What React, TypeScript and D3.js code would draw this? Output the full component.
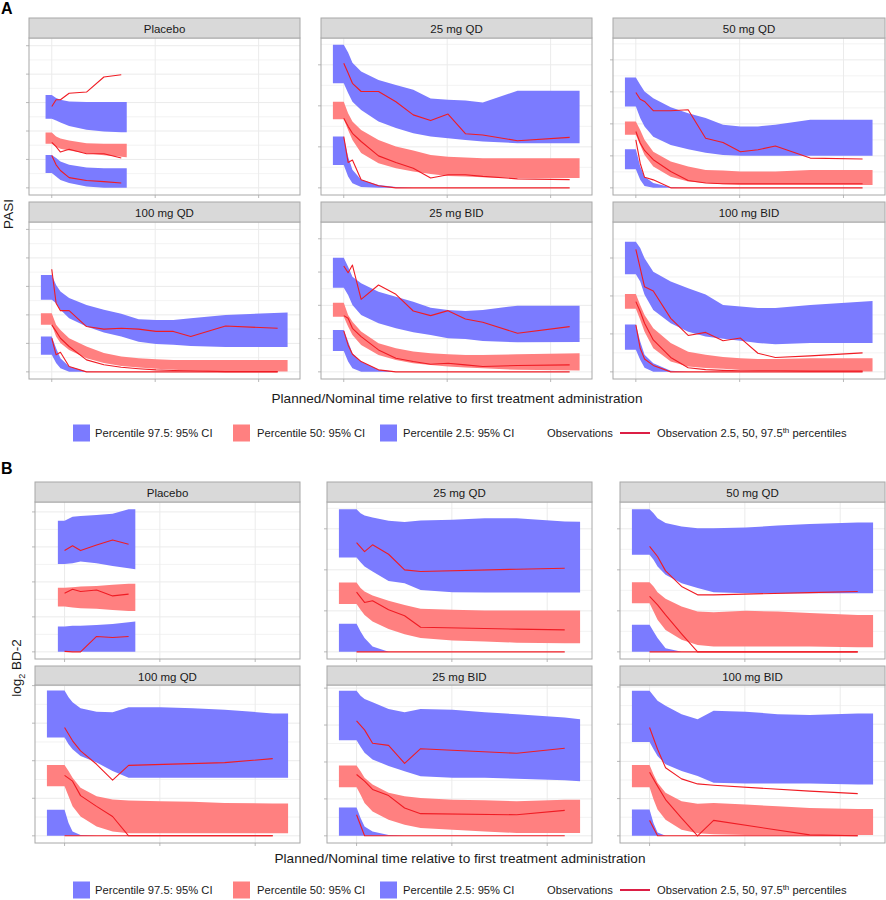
import React from 'react';
import * as d3 from 'd3';

// time axis is in hours after first dose
const timeBreaks = [0, 4000, 8000];

// ---------- PASI ----------
const pasiPlaceboBandHours = [-240, 0, 168, 336, 672, 1344, 2016, 2688, 2900];
const pasiPlaceboObsHours = [0, 168, 336, 672, 1344, 2016, 2688];
const pasiBandHours = [-420, 0, 168, 336, 672, 1344, 2016, 2688, 3360, 4032, 4704, 5376, 6720, 9120];
const pasiObsHours = [0, 168, 336, 672, 1344, 2016, 2688, 3360, 4032, 4704, 5376, 6720, 8736];

const pasiPlaceboBands = {
  upper: { lo: [24.3, 24.3, 23.7, 23.0, 21.8, 20.4, 19.8, 19.6, 19.6], hi: [32.7, 32.7, 31.6, 31.0, 30.4, 30.2, 30.2, 30.2, 30.2] },
  median: { lo: [15.5, 15.5, 14.5, 13.8, 13.1, 12.2, 11.5, 10.9, 10.8], hi: [19.5, 19.5, 18.1, 17.4, 16.7, 15.7, 15.5, 15.5, 15.5] },
  lower: { lo: [5.2, 5.2, 4.0, 2.8, 1.7, 0.5, 0, 0, 0], hi: [11.6, 11.6, 10.5, 9.3, 8.1, 7.2, 6.9, 6.9, 6.9] },
};
const pasiPlaceboObs = {
  upper: [28.6, 31.0, 31.0, 33.3, 33.7, 39.0, 39.8],
  median: [16.0, 14.5, 12.6, 13.6, 12.0, 12.0, 10.5],
  lower: [11.4, 8.1, 6.1, 3.6, 2.6, 2.2, 1.7],
};

const pasi25qdBands = {
  upper: { lo: [25.5, 25.5, 23.1, 21.0, 19.0, 16.2, 14.6, 13.3, 12.5, 12.1, 11.7, 11.3, 10.9, 10.9], hi: [34.9, 34.9, 33.0, 30.5, 28.4, 26.3, 25.1, 23.9, 21.8, 21.5, 21.3, 20.8, 23.7, 23.7] },
  median: { lo: [16.7, 16.7, 14.1, 11.7, 8.5, 6.0, 4.8, 4.0, 3.4, 2.9, 2.8, 2.6, 2.4, 2.4], hi: [21.0, 21.0, 18.2, 16.2, 14.1, 11.7, 10.1, 9.1, 8.0, 7.6, 7.4, 7.2, 7.2, 7.2] },
  lower: { lo: [5.6, 5.6, 2.8, 1.1, 0.2, 0, 0, 0, 0, 0, 0, 0, 0, 0], hi: [12.5, 12.5, 7.6, 4.4, 2.0, 0.7, 0.2, 0, 0, 0, 0, 0, 0, 0] },
};
const pasi25qdObs = {
  upper: [30.4, 28.0, 25.5, 23.5, 23.5, 21.0, 17.8, 16.4, 18.0, 13.2, 12.9, 11.5, 12.3],
  median: [17.0, 15.0, 13.3, 11.3, 7.8, 6.2, 4.8, 2.4, 3.2, 3.2, 2.8, 2.2, 2.0],
  lower: [12.5, 6.2, 6.8, 2.0, 0.5, 0, 0, 0, 0, 0, 0, 0, 0],
};

const pasi50qdBands = {
  upper: { lo: [25.4, 25.4, 21.8, 19.2, 16.0, 13.4, 12.1, 11.0, 10.3, 10.0, 10.0, 10.0, 10.0, 10.0], hi: [34.5, 34.5, 32.2, 30.1, 28.0, 25.2, 23.3, 21.8, 19.7, 19.2, 19.2, 19.7, 21.3, 21.3] },
  median: { lo: [16.6, 16.6, 13.4, 10.3, 6.7, 3.5, 2.0, 1.5, 1.1, 0.9, 0.9, 0.9, 0.9, 0.9], hi: [20.7, 20.7, 18.1, 15.0, 11.3, 8.2, 6.7, 5.6, 5.4, 5.1, 5.1, 5.1, 5.6, 5.6] },
  lower: { lo: [5.8, 5.8, 2.5, 0.6, 0, 0, 0, 0, 0, 0, 0, 0, 0, 0], hi: [12.1, 12.1, 6.7, 3.5, 1.5, 0.2, 0, 0, 0, 0, 0, 0, 0, 0] },
};
const pasi50qdObs = {
  upper: [29.8, 27.7, 27.0, 24.1, 24.1, 24.4, 15.5, 14.2, 11.3, 11.9, 13.1, 9.3, 9.0],
  median: [17.6, 14.0, 11.7, 8.8, 5.1, 2.3, 1.5, 1.3, 1.3, 1.3, 1.3, 1.3, 1.3],
  lower: [15.0, 7.7, 3.3, 2.5, 0, 0, 0, 0, 0, 0, 0, 0, 0],
};

const pasi100qdBands = {
  upper: { lo: [25.3, 25.3, 24.1, 21.8, 18.8, 15.9, 13.8, 12.4, 10.6, 9.8, 9.5, 9.1, 8.7, 8.7], hi: [34.0, 34.0, 30.5, 28.2, 25.9, 23.5, 21.8, 20.4, 18.5, 18.2, 18.2, 18.8, 20.0, 20.8] },
  median: { lo: [16.5, 16.5, 12.4, 10.1, 7.7, 4.8, 3.1, 2.1, 1.5, 1.1, 0.7, 0.5, 0.1, 0.1], hi: [20.6, 20.6, 16.5, 14.7, 11.8, 8.9, 6.6, 5.4, 4.8, 4.4, 4.2, 4.2, 4.2, 4.2] },
  lower: { lo: [6.0, 6.0, 3.1, 1.3, 0, 0, 0, 0, 0, 0, 0, 0, 0, 0], hi: [12.4, 12.4, 8.3, 4.8, 1.9, 0.1, 0, 0, 0, 0, 0, 0, 0, 0] },
};
const pasi100qdObs = {
  upper: [36.0, 24.1, 21.5, 21.5, 15.9, 15.0, 15.3, 15.0, 14.2, 14.2, 12.4, 16.1, 15.3],
  median: [16.5, 14.2, 11.8, 8.9, 4.2, 2.5, 1.6, 1.1, 0.7, 0.5, 0.4, 0.1, 0.1],
  lower: [11.8, 6.0, 6.9, 1.9, 0, 0, 0, 0, 0, 0, 0, 0, 0],
};

const pasi25bidBands = {
  upper: { lo: [25.3, 25.3, 23.1, 20.1, 17.1, 14.6, 13.1, 11.9, 11.1, 10.1, 9.9, 9.3, 8.9, 9.0], hi: [34.3, 34.3, 31.6, 28.6, 26.6, 24.1, 22.6, 21.1, 19.3, 18.6, 18.3, 18.6, 19.9, 19.9] },
  median: { lo: [16.6, 16.6, 13.6, 11.1, 8.1, 5.1, 3.6, 2.6, 2.1, 1.6, 1.3, 1.1, 0.6, 0.4], hi: [20.8, 20.8, 17.1, 15.1, 12.1, 8.6, 7.1, 6.1, 5.6, 5.3, 5.1, 5.1, 5.3, 5.6] },
  lower: { lo: [6.3, 6.3, 3.1, 1.1, 0, 0, 0, 0, 0, 0, 0, 0, 0, 0], hi: [12.6, 12.6, 9.1, 5.6, 3.1, 0.6, 0, 0, 0, 0, 0, 0, 0, 0] },
};
const pasi25bidObs = {
  upper: [31.8, 29.8, 32.1, 21.8, 26.1, 23.3, 18.3, 16.9, 18.4, 15.9, 14.9, 11.6, 13.6],
  median: [16.9, 16.1, 13.1, 10.6, 6.6, 4.1, 3.1, 2.3, 2.6, 2.1, 1.6, 1.9, 2.1],
  lower: [12.3, 8.1, 5.3, 3.1, 0.6, 0, 0, 0, 0, 0, 0, 0, 0],
};

const pasi100bidBands = {
  upper: { lo: [25.7, 25.7, 23.8, 20.3, 16.3, 12.8, 10.6, 9.3, 8.7, 8.2, 7.6, 7.3, 7.6, 7.6], hi: [34.3, 34.3, 32.6, 29.9, 26.4, 23.8, 22.0, 20.4, 17.6, 17.2, 16.8, 16.8, 17.6, 18.7] },
  median: { lo: [16.6, 16.6, 13.7, 10.6, 6.2, 2.7, 1.4, 1.0, 0.8, 0.5, 0.3, 0.3, 0.1, 0.1], hi: [20.5, 20.5, 17.6, 15.0, 11.5, 7.6, 5.3, 4.5, 3.9, 3.6, 3.4, 3.4, 3.6, 3.6] },
  lower: { lo: [5.8, 5.8, 3.2, 1.1, 0, 0, 0, 0, 0, 0, 0, 0, 0, 0], hi: [12.5, 12.5, 8.0, 4.5, 2.3, 0.3, 0, 0, 0, 0, 0, 0, 0, 0] },
};
const pasi100bidObs = {
  upper: [32.3, 27.3, 22.4, 21.3, 14.1, 9.6, 10.4, 8.2, 8.9, 4.9, 3.8, 4.2, 5.0],
  median: [18.5, 15.9, 12.8, 8.4, 3.8, 1.1, 0.6, 0.4, 0.3, 0.3, 0.3, 0.2, 0.2],
  lower: [12.4, 6.2, 3.4, 1.7, 0, 0, 0, 0, 0, 0, 0, 0, 0],
};

// ---------- log2 BD-2 ----------
const bd2PlaceboBandHours = [-280, 0, 336, 672, 1344, 2016, 2688, 2970];
const bd2PlaceboObsHours = [0, 336, 672, 1344, 2016, 2688];
const bd2BandHours = [-740, 0, 168, 336, 672, 1344, 2016, 2688, 4032, 5376, 6720, 8736, 9380];
const bd2ObsHours = [0, 336, 672, 1344, 2016, 2688, 6720, 8736];

const bd2PlaceboBands = {
  upper: { lo: [5.03, 5.03, 5.07, 5.16, 5.07, 4.91, 4.78, 4.72], hi: [7.49, 7.49, 7.73, 7.77, 7.83, 7.89, 8.15, 8.15] },
  median: { lo: [2.59, 2.59, 2.53, 2.49, 2.46, 2.40, 2.34, 2.34], hi: [3.67, 3.67, 3.69, 3.73, 3.77, 3.83, 3.89, 3.89] },
  lower: { lo: [0, 0, 0, 0, 0, 0, 0, 0], hi: [1.45, 1.45, 1.49, 1.50, 1.54, 1.60, 1.70, 1.73] },
};
const bd2PlaceboObs = {
  upper: [5.79, 6.07, 5.79, 6.11, 6.40, 6.15],
  median: [3.35, 3.58, 3.45, 3.54, 3.20, 3.30],
  lower: [0.03, 0, 0, 0.88, 0.82, 0.88],
};

const bd225qdBands = {
  upper: { lo: [4.60, 4.60, 4.37, 4.16, 3.92, 3.46, 3.35, 3.02, 2.91, 2.89, 2.89, 2.89, 2.89], hi: [6.96, 6.96, 6.76, 6.65, 6.55, 6.39, 6.33, 6.41, 6.44, 6.52, 6.52, 6.36, 6.34] },
  median: { lo: [2.33, 2.33, 2.05, 1.80, 1.48, 1.12, 0.86, 0.67, 0.55, 0.50, 0.45, 0.42, 0.42], hi: [3.38, 3.38, 3.11, 2.94, 2.75, 2.49, 2.29, 2.10, 2.05, 2.02, 2.02, 2.02, 2.02] },
  lower: { lo: [0, 0, 0, 0, 0, 0, 0, 0, 0, 0, 0, 0, 0], hi: [1.37, 1.37, 0.99, 0.67, 0.26, 0, 0, 0, 0, 0, 0, 0, 0] },
};
const bd225qdObs = {
  upper: [5.33, 4.89, 5.22, 4.76, 4.00, 3.92, 4.03, 4.08],
  median: [2.91, 2.41, 2.49, 2.05, 1.76, 1.20, 1.11, 1.07],
  lower: [0, 0, 0, 0, 0, 0, 0, 0],
};

const bd250qdBands = {
  upper: { lo: [4.73, 4.73, 4.49, 4.16, 3.76, 3.35, 3.11, 2.91, 2.86, 2.86, 2.86, 2.86, 2.86], hi: [6.96, 6.96, 6.76, 6.52, 6.28, 6.11, 6.03, 6.03, 6.06, 6.16, 6.23, 6.31, 6.31] },
  median: { lo: [2.37, 2.37, 1.97, 1.56, 1.07, 0.59, 0.34, 0.26, 0.26, 0.26, 0.26, 0.23, 0.23], hi: [3.40, 3.40, 3.19, 2.91, 2.59, 2.21, 1.97, 1.93, 2.00, 1.97, 1.89, 1.80, 1.80] },
  lower: { lo: [0, 0, 0, 0, 0, 0, 0, 0, 0, 0, 0, 0, 0], hi: [1.32, 1.32, 0.99, 0.67, 0.18, 0, 0, 0, 0, 0, 0, 0, 0] },
};
const bd250qdObs = {
  upper: [5.14, 4.65, 3.95, 3.19, 2.78, 2.78, 2.89, 2.94],
  median: [2.70, 2.29, 1.80, 0.88, 0, 0, 0, 0],
  lower: [0, 0, 0, 0, 0, 0, 0, 0],
};

const bd2100qdBands = {
  upper: { lo: [5.24, 5.24, 4.88, 4.61, 4.25, 3.90, 3.45, 3.09, 3.09, 3.09, 3.09, 3.09, 3.09], hi: [7.74, 7.74, 7.38, 7.11, 6.79, 6.61, 6.58, 6.85, 6.85, 6.79, 6.72, 6.52, 6.52] },
  median: { lo: [2.64, 2.64, 2.11, 1.57, 1.03, 0.50, 0.23, 0.14, 0.14, 0.14, 0.14, 0.14, 0.14], hi: [3.77, 3.77, 3.45, 3.09, 2.56, 2.11, 1.93, 1.88, 1.84, 1.81, 1.75, 1.72, 1.72] },
  lower: { lo: [0, 0, 0, 0, 0, 0, 0, 0, 0, 0, 0, 0, 0], hi: [1.39, 1.39, 0.68, 0.23, 0.05, 0, 0, 0, 0, 0, 0, 0, 0] },
};
const bd2100qdObs = {
  upper: [5.77, 5.06, 4.52, 3.81, 2.97, 3.75, 3.90, 4.11],
  median: [3.22, 2.91, 2.14, 1.57, 1.03, 0, 0, 0],
  lower: [0, 0, 0, 0, 0, 0, 0, 0],
};

const bd225bidBands = {
  upper: { lo: [5.18, 5.18, 4.83, 4.50, 4.14, 3.78, 3.50, 3.23, 3.14, 3.14, 3.09, 3.01, 2.96], hi: [7.86, 7.86, 7.59, 7.41, 7.23, 6.87, 6.69, 6.87, 6.83, 6.69, 6.59, 6.41, 6.32] },
  median: { lo: [2.63, 2.63, 2.23, 1.78, 1.32, 0.87, 0.60, 0.42, 0.33, 0.24, 0.15, 0.15, 0.15], hi: [3.81, 3.81, 3.50, 3.14, 2.78, 2.33, 2.14, 2.05, 1.96, 1.92, 1.87, 1.96, 1.96] },
  lower: { lo: [0, 0, 0, 0, 0, 0, 0, 0, 0, 0, 0, 0, 0], hi: [1.54, 1.54, 0.96, 0.51, 0.24, 0.05, 0, 0, 0, 0, 0, 0, 0] },
};
const bd225bidObs = {
  upper: [6.23, 5.74, 5.01, 4.90, 3.92, 4.72, 4.47, 4.74],
  median: [3.32, 2.96, 2.51, 2.18, 1.51, 1.20, 1.14, 1.38],
  lower: [1.14, 0, 0, 0, 0, 0, 0, 0],
};

const bd2100bidBands = {
  upper: { lo: [5.04, 5.04, 4.65, 4.29, 3.84, 3.48, 3.21, 2.85, 2.81, 2.81, 2.81, 2.76, 2.76], hi: [7.80, 7.80, 7.53, 7.26, 6.99, 6.54, 6.27, 6.72, 6.67, 6.54, 6.49, 6.58, 6.58] },
  median: { lo: [2.61, 2.61, 1.95, 1.41, 0.86, 0.32, 0.14, 0.09, 0.05, 0.05, 0.05, 0.05, 0.05], hi: [3.80, 3.80, 3.30, 2.85, 2.31, 1.86, 1.73, 1.77, 1.68, 1.59, 1.50, 1.44, 1.44] },
  lower: { lo: [0, 0, 0, 0, 0, 0, 0, 0, 0, 0, 0, 0, 0], hi: [1.41, 1.41, 0.68, 0.18, 0, 0, 0, 0, 0, 0, 0, 0, 0] },
};
const bd2100bidObs = {
  upper: [5.82, 4.65, 3.66, 3.06, 2.79, 2.72, 2.40, 2.27],
  median: [3.42, 2.67, 1.95, 0.95, 0, 0.83, 0.05, 0],
  lower: [0.83, 0, 0, 0, 0, 0, 0, 0],
};

// upper end of each facet's (free) y range
const pasiYTop = [50.2, 34.8, 44.6, 50.1, 42.9, 37.6];
const bd2YTop = [8.16, 6.96, 6.96, 7.65, 7.78, 7.72];

const armTitles = ['Placebo', '25 mg QD', '50 mg QD', '100 mg QD', '25 mg BID', '100 mg BID'];

type BandSet = { upper: { lo: number[]; hi: number[] }; median: { lo: number[]; hi: number[] }; lower: { lo: number[]; hi: number[] } };
type ObsSet = { upper: number[]; median: number[]; lower: number[] };
type PanelData = { title: string; bandHours: number[]; obsHours: number[]; bands: BandSet; obs: ObsSet; yTop: number };

const pasiPanels: PanelData[] = [
  { bandHours: pasiPlaceboBandHours, obsHours: pasiPlaceboObsHours, bands: pasiPlaceboBands, obs: pasiPlaceboObs },
  { bandHours: pasiBandHours, obsHours: pasiObsHours, bands: pasi25qdBands, obs: pasi25qdObs },
  { bandHours: pasiBandHours, obsHours: pasiObsHours, bands: pasi50qdBands, obs: pasi50qdObs },
  { bandHours: pasiBandHours, obsHours: pasiObsHours, bands: pasi100qdBands, obs: pasi100qdObs },
  { bandHours: pasiBandHours, obsHours: pasiObsHours, bands: pasi25bidBands, obs: pasi25bidObs },
  { bandHours: pasiBandHours, obsHours: pasiObsHours, bands: pasi100bidBands, obs: pasi100bidObs },
].map((p, i) => ({ ...p, title: armTitles[i], yTop: pasiYTop[i] }));

const bd2Panels: PanelData[] = [
  { bandHours: bd2PlaceboBandHours, obsHours: bd2PlaceboObsHours, bands: bd2PlaceboBands, obs: bd2PlaceboObs },
  { bandHours: bd2BandHours, obsHours: bd2ObsHours, bands: bd225qdBands, obs: bd225qdObs },
  { bandHours: bd2BandHours, obsHours: bd2ObsHours, bands: bd250qdBands, obs: bd250qdObs },
  { bandHours: bd2BandHours, obsHours: bd2ObsHours, bands: bd2100qdBands, obs: bd2100qdObs },
  { bandHours: bd2BandHours, obsHours: bd2ObsHours, bands: bd225bidBands, obs: bd225bidObs },
  { bandHours: bd2BandHours, obsHours: bd2ObsHours, bands: bd2100bidBands, obs: bd2100bidObs },
].map((p, i) => ({ ...p, title: armTitles[i], yTop: bd2YTop[i] }));

const FONT = '"Liberation Sans", Arial, sans-serif';
const BLUE = '#7b7bff';
const RED = '#ff8080';
const LINE = '#f01c24';
const GRID = '#ebebeb';
const BORDER = '#a8a8a8';

type PanelBox = { x0: number; x1: number; stripTop: number; plotTop: number; plotBottom: number };

function Facet({ d, box, xDomain, yStep, id }: { d: PanelData; box: PanelBox; xDomain: [number, number]; yStep: number; id: string }) {
  const { x0, x1, stripTop, plotTop, plotBottom } = box;
  const x = d3.scaleLinear().domain(xDomain).range([x0, x1]);
  const y = d3.scaleLinear().domain([-0.05 * d.yTop, 1.05 * d.yTop]).range([plotBottom, plotTop]);
  const [yLo, yHi] = y.domain();
  const majors = d3.range(Math.ceil(yLo / yStep) * yStep, yHi + 1e-9, yStep);
  const minors = d3.range(Math.ceil(yLo / yStep) * yStep - yStep / 2, yHi, yStep).filter(v => v > yLo);

  const area = (b: { lo: number[]; hi: number[] }) =>
    d3.area<number>()
      .x(h => x(h))
      .y0((_, i) => y(b.lo[i]))
      .y1((_, i) => y(b.hi[i]))(d.bandHours) || '';
  const line = (vals: number[]) =>
    d3.line<number>()
      .x((_, i) => x(d.obsHours[i]))
      .y(v => y(v))(vals) || '';

  return (
    <g>
      <defs>
        <clipPath id={id}>
          <rect x={x0} y={plotTop} width={x1 - x0} height={plotBottom - plotTop} />
        </clipPath>
      </defs>
      <rect x={x0} y={plotTop} width={x1 - x0} height={plotBottom - plotTop} fill="#fff" />
      {minors.map(v => (
        <line key={'n' + v} x1={x0} x2={x1} y1={y(v)} y2={y(v)} stroke={GRID} strokeWidth={0.6} />
      ))}
      {majors.map(v => (
        <line key={'m' + v} x1={x0} x2={x1} y1={y(v)} y2={y(v)} stroke={GRID} strokeWidth={1} />
      ))}
      {timeBreaks.map(t => (
        <line key={'v' + t} x1={x(t)} x2={x(t)} y1={plotTop} y2={plotBottom} stroke={GRID} strokeWidth={1} />
      ))}
      <g clipPath={`url(#${id})`}>
        <path d={area(d.bands.upper)} fill={BLUE} />
        <path d={area(d.bands.median)} fill={RED} />
        <path d={area(d.bands.lower)} fill={BLUE} />
        {[d.obs.upper, d.obs.median, d.obs.lower].map((o, i) => (
          <path key={i} d={line(o)} fill="none" stroke={LINE} strokeWidth={1.1} strokeLinejoin="round" />
        ))}
      </g>
      <rect x={x0} y={plotTop} width={x1 - x0} height={plotBottom - plotTop} fill="none" stroke={BORDER} strokeWidth={1} />
      {majors.map(v => (
        <line key={'t' + v} x1={x0 - 3} x2={x0} y1={y(v)} y2={y(v)} stroke={BORDER} strokeWidth={0.8} />
      ))}
      {timeBreaks.map(t => (
        <line key={'b' + t} x1={x(t)} x2={x(t)} y1={plotBottom} y2={plotBottom + 3} stroke={BORDER} strokeWidth={0.8} />
      ))}
      <rect x={x0} y={stripTop} width={x1 - x0} height={plotTop - stripTop} fill="#d9d9d9" stroke={BORDER} strokeWidth={1} />
      <text x={(x0 + x1) / 2} y={stripTop + 14.5} textAnchor="middle" fontSize={11.5} fontFamily={FONT} fill="#1a1a1a">
        {d.title}
      </text>
    </g>
  );
}

function Legend({ y }: { y: number }) {
  const fs = 11.2;
  return (
    <g fontFamily={FONT} fontSize={fs} fill="#1a1a1a">
      <rect x={73} y={y - 8.5} width={17} height={17} fill={BLUE} />
      <text x={95} y={y + 4}>Percentile 97.5: 95% CI</text>
      <rect x={233} y={y - 8.5} width={17} height={17} fill={RED} />
      <text x={257} y={y + 4}>Percentile 50: 95% CI</text>
      <rect x={380} y={y - 8.5} width={17} height={17} fill={BLUE} />
      <text x={403} y={y + 4}>Percentile 2.5: 95% CI</text>
      <text x={547} y={y + 4}>Observations</text>
      <line x1={620} x2={650} y1={y} y2={y} stroke="#dc1f45" strokeWidth={2} />
      <text x={657} y={y + 4}>
        Observation 2.5, 50, 97.5<tspan dy={-4} fontSize={8}>th</tspan>
        <tspan dy={4}> percentiles</tspan>
      </text>
    </g>
  );
}

function Block({ label, labelY, panels, cols, rows, xDomain, yStep, yTitle, yTitleX, yTitleY, xTitleY, legendY, prefix }: {
  label: string; labelY: number; panels: PanelData[]; cols: [number, number][]; rows: [number, number, number][];
  xDomain: [number, number]; yStep: number; yTitle: React.ReactNode; yTitleX: number; yTitleY: number;
  xTitleY: number; legendY: number; prefix: string;
}) {
  return (
    <g>
      <text x={1} y={labelY} fontSize={16} fontWeight="bold" fontFamily={FONT} fill="#000">{label}</text>
      {panels.map((p, i) => {
        const [x0, x1] = cols[i % 3];
        const [stripTop, plotTop, plotBottom] = rows[Math.floor(i / 3)];
        return (
          <Facet key={i} id={`${prefix}${i}`} d={p} box={{ x0, x1, stripTop, plotTop, plotBottom }} xDomain={xDomain} yStep={yStep} />
        );
      })}
      <text transform={`translate(${yTitleX},${yTitleY}) rotate(-90)`} textAnchor="middle" fontSize={13.5} fontFamily={FONT} fill="#1a1a1a">
        {yTitle}
      </text>
      <text x={(cols[0][0] + cols[2][1]) / 2} y={xTitleY} textAnchor="middle" fontSize={13.6} fontFamily={FONT} fill="#1a1a1a">
        Planned/Nominal time relative to first treatment administration
      </text>
      <Legend y={legendY} />
    </g>
  );
}

export default function App() {
  return (
    <svg width={886} height={900} style={{ position: 'absolute', left: 0, top: 0, background: '#fff' }}>
      <rect width={886} height={900} fill="#fff" />
      <Block
        label="A" labelY={13.5} prefix="pasi"
        panels={pasiPanels}
        cols={[[29, 300], [321, 592], [613, 885]]}
        rows={[[18, 38, 195], [202, 222, 379]]}
        xDomain={[-880, 9600]} yStep={10}
        yTitle="PASI" yTitleX={13} yTitleY={214}
        xTitleY={403} legendY={433}
      />
      <Block
        label="B" labelY={474} prefix="bd2"
        panels={bd2Panels}
        cols={[[35, 300], [327, 592], [620, 885]]}
        rows={[[482, 502, 659], [666, 685, 843]]}
        xDomain={[-1240, 9880]} yStep={2}
        yTitle={<>log<tspan dy={4} fontSize={9}>2</tspan><tspan dy={-4}> BD-2</tspan></>}
        yTitleX={21} yTitleY={668}
        xTitleY={863} legendY={890}
      />
    </svg>
  );
}
